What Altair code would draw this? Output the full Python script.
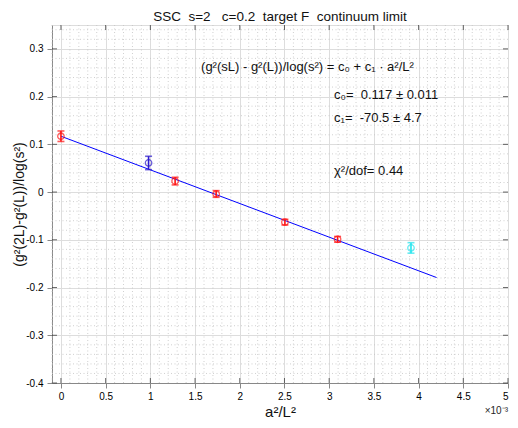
import altair as alt
import pandas as pd

# ---- data ----
a2L2 = [0.0, 0.98, 1.277, 1.736, 2.505, 3.094, 3.915]          # a^2/L^2  (x 1e-3)
dg = [0.117, 0.061, 0.023, -0.004, -0.063, -0.099, -0.117]       # (g2(2L)-g2(L))/log(s2)
dg_err = [0.011, 0.014, 0.008, 0.007, 0.006, 0.006, 0.011]
series = ["extrapolated", "excluded", "fitted", "fitted", "fitted", "fitted", "not fitted"]
series_names = ["extrapolated", "excluded", "fitted", "not fitted"]
series_colors = ["#ff1414", "#2c1acc", "#ff1414", "#22e4ee"]

fit_x = [0.0, 4.2]
fit_y = [0.117, -0.179]

x_major = [0, 0.5, 1, 1.5, 2, 2.5, 3, 3.5, 4, 4.5, 5]
y_major = [-0.4, -0.3, -0.2, -0.1, 0, 0.1, 0.2, 0.3]

x_minor = [round(-0.1 + 0.1 * i, 2) for i in range(52)]
x_minor = [v for v in x_minor if abs(v * 2 - round(v * 2)) > 1e-6]
y_minor = [round(-0.4 + 0.02 * i, 3) for i in range(38)]
y_minor = [v for v in y_minor if abs(v * 10 - round(v * 10)) > 1e-6]

NB = "\u00a0"
title_text = f"SSC{NB}{NB}s=2{NB}{NB}{NB}c=0.2{NB}{NB}target F{NB}{NB}continuum limit"

FONT = "Liberation Sans"
AX = "#262626"
X_DOM = [-0.1, 5]
Y_DOM = [-0.4, 0.35]
W, H = 456, 358

pts = pd.DataFrame({"x": a2L2, "y": dg, "err": dg_err, "series": series})
fit = pd.DataFrame({"x": fit_x, "y": fit_y})

xs = alt.Scale(domain=X_DOM, nice=False, zero=False)
ys = alt.Scale(domain=Y_DOM, nice=False, zero=False)
col = alt.Color("series:N", scale=alt.Scale(domain=series_names, range=series_colors), legend=None)

x_axis = alt.Axis(values=x_major, labelExpr="'' + datum.value", title="a²/L²",
                  titleFontSize=15, titleFont=FONT, titleFontWeight="normal", titleColor="#111111",
                  titleX=W / 2, titleY=33, titleBaseline="alphabetic", titleAlign="center",
                  labelPadding=3)
y_axis = alt.Axis(values=y_major, labelExpr="'' + datum.value", title="(g²(2L)-g²(L))/log(s²)",
                  titleFontSize=14, titleFont=FONT, titleFontWeight="normal", titleColor="#111111",
                  titleX=-33, titleY=H / 2, titleAngle=270, titleAlign="center", titleBaseline="middle",
                  labelPadding=4)

base_x = alt.X("x:Q", scale=xs, axis=x_axis)
base_y = alt.Y("y:Q", scale=ys, axis=y_axis)

# minor grid
xmin_df = pd.DataFrame({"v": x_minor})
ymin_df = pd.DataFrame({"v": y_minor})
minor_x = alt.Chart(xmin_df).mark_rule(color="#c4c4c4", strokeDash=[1, 2.5], strokeWidth=0.8).encode(
    x=alt.X("v:Q", scale=xs, axis=x_axis))
minor_y = alt.Chart(ymin_df).mark_rule(color="#c4c4c4", strokeDash=[1, 2.5], strokeWidth=0.8).encode(
    y=alt.Y("v:Q", scale=ys, axis=y_axis))

# inward ticks on all four sides
xt_df = pd.DataFrame({"v": x_major})
yt_df = pd.DataFrame({"v": y_major})
tick_b = alt.Chart(xt_df).mark_tick(orient="vertical", size=5, thickness=1, yOffset=-2.5, color=AX).encode(
    x=alt.X("v:Q", scale=xs), y=alt.datum(Y_DOM[0]))
tick_t = alt.Chart(xt_df).mark_tick(orient="vertical", size=5, thickness=1, yOffset=2.5, color=AX).encode(
    x=alt.X("v:Q", scale=xs), y=alt.datum(Y_DOM[1]))
tick_l = alt.Chart(yt_df).mark_tick(orient="horizontal", size=5, thickness=1, xOffset=2.5, color=AX).encode(
    y=alt.Y("v:Q", scale=ys), x=alt.datum(X_DOM[0]))
tick_r = alt.Chart(yt_df).mark_tick(orient="horizontal", size=5, thickness=1, xOffset=-2.5, color=AX).encode(
    y=alt.Y("v:Q", scale=ys), x=alt.datum(X_DOM[1]))

fit_line = alt.Chart(fit).mark_line(color="#0000ff", strokeWidth=1).encode(x=base_x, y=base_y)

err_base = alt.Chart(pts).transform_calculate(lo="datum.y - datum.err", hi="datum.y + datum.err")
err_rule = err_base.mark_rule(strokeWidth=1.6).encode(
    x=alt.X("x:Q", scale=xs), y=alt.Y("lo:Q", scale=ys), y2="hi:Q", color=col)
cap_lo = err_base.mark_tick(orient="horizontal", size=7, thickness=1.6).encode(
    x=alt.X("x:Q", scale=xs), y=alt.Y("lo:Q", scale=ys), color=col)
cap_hi = err_base.mark_tick(orient="horizontal", size=7, thickness=1.6).encode(
    x=alt.X("x:Q", scale=xs), y=alt.Y("hi:Q", scale=ys), color=col)
points = alt.Chart(pts).mark_point(shape="circle", filled=False, size=42, strokeWidth=1.3).encode(
    x=alt.X("x:Q", scale=xs), y=alt.Y("y:Q", scale=ys), color=col)

# annotations (data coordinates)
ann = pd.DataFrame({
    "x": [1.567, 3.054, 3.054, 3.054],
    "y": [0.254, 0.195, 0.147, 0.036],
    "t": ["(g²(sL) - g²(L))/log(s²) = c₀ + c₁ · a²/L²",
          f"c₀={NB}{NB}0.117 ± 0.011",
          f"c₁={NB}{NB}-70.5 ± 4.7",
          "χ²/dof= 0.44"],
})
ann_text = alt.Chart(ann).mark_text(align="left", baseline="alphabetic", font=FONT, fontSize=13,
                                    color="#111111").encode(
    x=alt.X("x:Q", scale=xs), y=alt.Y("y:Q", scale=ys), text="t:N")

title_mark = alt.Chart(pd.DataFrame({"t": [title_text]})).mark_text(
    align="center", baseline="alphabetic", font=FONT, fontSize=13.5, color="#111111", dy=-4).encode(
    x=alt.datum((X_DOM[0] + X_DOM[1]) / 2), y=alt.datum(Y_DOM[1]), text="t:N")

exp_text = alt.Chart(pd.DataFrame({"t": ["×10⁻³"]})).mark_text(
    align="right", baseline="alphabetic", font=FONT, fontSize=10, color=AX, dy=31).encode(
    x=alt.datum(X_DOM[1]), y=alt.datum(Y_DOM[0]), text="t:N")

chart = alt.layer(
    minor_x, minor_y, fit_line, err_rule, cap_lo, cap_hi, points,
    tick_b, tick_t, tick_l, tick_r, ann_text, title_mark, exp_text
).properties(
    width=W, height=H,
    padding={"left": 44, "top": 17, "right": 2, "bottom": 37},
    autosize=alt.AutoSizeParams(type="none"),
).configure_view(
    stroke=AX, strokeWidth=1, fill="white"
).configure_axis(
    grid=True, gridColor="#e2e2e2", gridWidth=1, domain=False, ticks=False,
    labelFont=FONT, labelFontSize=11, labelColor=AX
).configure(background="white")

chart.save("out.html", embed_options={"renderer": "svg", "actions": False})
